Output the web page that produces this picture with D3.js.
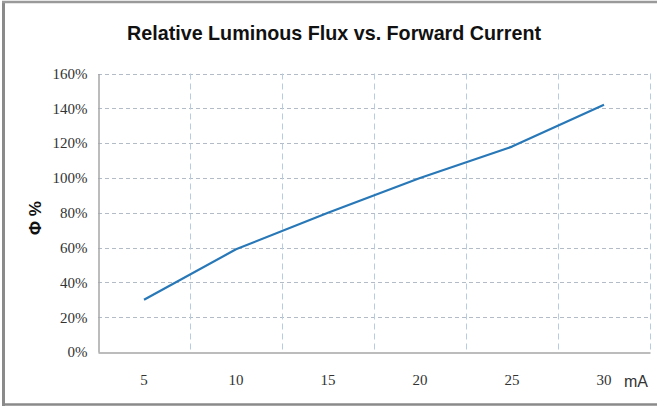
<!DOCTYPE html>
<html><head><meta charset="utf-8">
<script src="https://cdn.jsdelivr.net/npm/d3@7"></script>
<style>html,body{margin:0;padding:0;background:#fff;}svg{display:block;}</style>
</head><body>
<script>
const categories = [5, 10, 15, 20, 25, 30];
const fluxValues = [30, 59, 80, 100, 118, 142];
const yTicks = [0, 20, 40, 60, 80, 100, 120, 140, 160];
const titleText = "Relative Luminous Flux vs. Forward Current";
const yTitle = "Φ %";
const xUnit = "mA";

const W = 657, H = 409;
const svg = d3.select("body").append("svg").attr("width", W).attr("height", H);

// frame
svg.append("rect").attr("x",0).attr("y",0).attr("width",W).attr("height",H).attr("fill","#fff");
svg.append("line").attr("x1",3.5).attr("x2",3.5).attr("y1",1).attr("y2",406).attr("stroke","#8a8a8a").attr("stroke-width",3);
svg.append("line").attr("x1",2).attr("x2",W).attr("y1",2).attr("y2",2).attr("stroke","#9a9a9a").attr("stroke-width",2.5);
svg.append("line").attr("x1",2).attr("x2",W).attr("y1",404.5).attr("y2",404.5).attr("stroke","#8a8a8a").attr("stroke-width",2.5);

const x = d3.scaleBand().domain(categories).range([98, 650]).padding(0);
const y = d3.scaleLinear().domain([0, 160]).range([352, 73.5]);

// horizontal grid
svg.append("g").selectAll("line").data(yTicks.filter(d => d > 0)).join("line")
  .attr("x1", 98).attr("x2", 650)
  .attr("y1", d => Math.round(y(d)) + 0.5).attr("y2", d => Math.round(y(d)) + 0.5)
  .attr("stroke", "#b3bcc6").attr("stroke-width", 1).attr("stroke-dasharray", "4,3");

// vertical grid at band boundaries
const bounds = categories.map(c => x(c) + x.bandwidth());
svg.append("g").selectAll("line").data(bounds).join("line")
  .attr("x1", d => Math.round(d) + 0.5).attr("x2", d => Math.round(d) + 0.5)
  .attr("y1", 73.5).attr("y2", 352)
  .attr("stroke", "#b6cde0").attr("stroke-width", 1).attr("stroke-dasharray", "6,4");

// axes
const yAxis = d3.axisLeft(y).tickValues(yTicks).tickSize(0).tickPadding(11).tickFormat(d => d + "%");
const gy = svg.append("g").attr("transform", "translate(98.5,0)").call(yAxis);
gy.select(".domain").attr("stroke", "#a6a6a6").attr("stroke-width", 1.5);
gy.selectAll("text").attr("font-family", "'Liberation Serif', serif").attr("font-size", 15).attr("fill", "#333");

const xAxis = d3.axisBottom(x).tickSize(0).tickPadding(22);
const gx = svg.append("g").attr("transform", "translate(0,352.5)").call(xAxis);
gx.select(".domain").attr("stroke", "#a6a6a6").attr("stroke-width", 1.5);
gx.selectAll("text").attr("font-family", "'Liberation Serif', serif").attr("font-size", 15).attr("fill", "#333");

// line
const line = d3.line().x((d, i) => x(categories[i]) + x.bandwidth() / 2).y(d => y(d));
svg.append("path").datum(fluxValues).attr("d", line)
  .attr("fill", "none").attr("stroke", "#2878b8").attr("stroke-width", 2.2).attr("stroke-linejoin", "round");

// title
svg.append("text").attr("x", 334).attr("y", 40).attr("text-anchor", "middle")
  .attr("font-family", "'Liberation Sans', Arial, sans-serif").attr("font-weight", "bold")
  .attr("font-size", 21).attr("fill", "#111")
  .attr("textLength", 414).attr("lengthAdjust", "spacingAndGlyphs").text(titleText);

// y title
svg.append("text").attr("transform", "translate(41,218) rotate(-90)").attr("text-anchor", "middle")
  .attr("font-family", "'Liberation Sans', Arial, sans-serif").attr("font-weight", "bold")
  .attr("font-size", 17).attr("fill", "#111").text(yTitle);

// unit
svg.append("text").attr("x", 624).attr("y", 387).attr("font-family", "'Liberation Sans', Arial, sans-serif")
  .attr("font-size", 16).attr("fill", "#333").text(xUnit);
</script>
</body></html>
